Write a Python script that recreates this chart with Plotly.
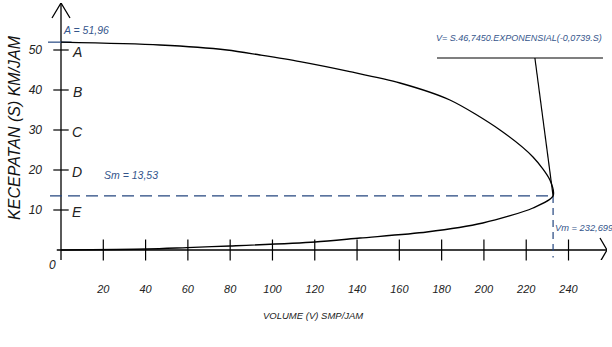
import plotly.graph_objects as go

# Speed-volume relation (upper branch from free-flow speed down to capacity,
# lower branch back to the origin)
upper_volume = [0, 46.8, 78.5, 94.1, 113.0, 136.6, 160.3, 183.9, 207.6, 223.2, 231.2]
upper_speed = [51.96, 51.25, 50.0, 48.75, 47.1, 44.6, 41.75, 37.5, 30.0, 23.25, 17.5]
lower_volume = [223.2, 199.5, 173.0, 141.4, 120.1, 79.9, 59.6, 40.7, 0]
lower_speed = [10.5, 6.75, 4.5, 3.0, 2.0, 1.0, 0.6, 0.25, 0]

free_speed = 51.96      # A
speed_max = 13.53       # Sm
volume_max = 232.699    # Vm

x_ticks = [20, 40, 60, 80, 100, 120, 140, 160, 180, 200, 220, 240]
y_ticks = [10, 20, 30, 40, 50]
y_letters = ["E", "D", "C", "B", "A"]

BLUE = "#34558b"
DASH_BLUE = "#24467f"
FONT = "Liberation Sans, Arial"

X_RANGE = [-6.15, 258.2]
Y_RANGE = [-2.5, 61.75]

curve_v = upper_volume + [volume_max] + lower_volume
curve_s = upper_speed + [speed_max] + lower_speed

fig = go.Figure()

# axis lines
fig.add_trace(go.Scatter(x=[-2, X_RANGE[1]], y=[0, 0], mode="lines",
                         line=dict(color="black", width=1.3), cliponaxis=False,
                         hoverinfo="skip"))
fig.add_trace(go.Scatter(x=[0, 0], y=[Y_RANGE[0], Y_RANGE[1]], mode="lines",
                         line=dict(color="black", width=1.3), cliponaxis=False,
                         hoverinfo="skip"))

# tick marks crossing the axes
fig.add_trace(go.Scatter(x=x_ticks, y=[0] * len(x_ticks), mode="markers",
                         marker=dict(symbol="line-ns", size=15,
                                     line=dict(color="black", width=1.2)),
                         cliponaxis=False, hoverinfo="skip"))
fig.add_trace(go.Scatter(x=[0] * len(y_ticks), y=y_ticks, mode="markers",
                         marker=dict(symbol="line-ew", size=11,
                                     line=dict(color="black", width=1.2)),
                         cliponaxis=False, hoverinfo="skip"))

# reference lines for Sm, Vm and A
fig.add_trace(go.Scatter(x=[-5.2, volume_max], y=[speed_max, speed_max], mode="lines",
                         line=dict(color=DASH_BLUE, width=1.2, dash="12px,6px"),
                         cliponaxis=False, hoverinfo="skip"))
fig.add_trace(go.Scatter(x=[volume_max, volume_max], y=[speed_max, -1.9], mode="lines",
                         line=dict(color=DASH_BLUE, width=1.2, dash="7px,5px"),
                         cliponaxis=False, hoverinfo="skip"))
fig.add_trace(go.Scatter(x=[-6.15, 5], y=[free_speed, free_speed], mode="lines",
                         line=dict(color=BLUE, width=1.3),
                         cliponaxis=False, hoverinfo="skip"))

# speed-volume curve
fig.add_trace(go.Scatter(x=curve_v, y=curve_s, mode="lines",
                         line=dict(color="black", width=1.3, shape="spline", smoothing=0.8),
                         cliponaxis=False, hoverinfo="skip"))

# formula call-out leader
fig.add_trace(go.Scatter(x=[177.8, 256.3], y=[48, 48], mode="lines",
                         line=dict(color="black", width=1.2), cliponaxis=False,
                         hoverinfo="skip"))
fig.add_trace(go.Scatter(x=[224.1, volume_max], y=[48, speed_max], mode="lines",
                         line=dict(color="black", width=1.2), cliponaxis=False,
                         hoverinfo="skip"))

# arrowheads at axis ends
fig.add_shape(type="path", xref="x", yref="y", xsizemode="pixel", ysizemode="pixel",
              xanchor=0, yanchor=Y_RANGE[1], path="M -9,-15 L 0,0 L 9,-15",
              line=dict(color="black", width=1.3))
fig.add_shape(type="path", xref="x", yref="y", xsizemode="pixel", ysizemode="pixel",
              xanchor=X_RANGE[1], yanchor=0, path="M -7,12 L 0,0 L -7,-12",
              line=dict(color="black", width=1.3))

italic = dict(family=FONT, style="italic")

# letters beside the speed ticks
for val, letter in zip(y_ticks, y_letters):
    fig.add_annotation(x=0, y=val, text=letter, showarrow=False, xanchor="center",
                       xshift=16, yshift=-2,
                       font=dict(**italic, size=14, color="#222222"))

fig.add_annotation(x=0, y=0, text="0", showarrow=False, xshift=-9, yshift=-15,
                   font=dict(**italic, size=12, color="#222222"))

fig.add_annotation(x=0, y=free_speed, text="A = 51,96", showarrow=False,
                   xanchor="left", yanchor="bottom", xshift=0, yshift=4,
                   font=dict(**italic, size=10.5, color=BLUE))
fig.add_annotation(x=0, y=speed_max, text="Sm = 13,53", showarrow=False,
                   xanchor="left", yanchor="bottom", xshift=41, yshift=13,
                   font=dict(**italic, size=10.5, color=BLUE))
fig.add_annotation(x=volume_max, y=0, text="Vm = 232,699", showarrow=False,
                   xanchor="left", yanchor="middle", xshift=0, yshift=22,
                   font=dict(**italic, size=9.3, color=BLUE))
fig.add_annotation(x=177.8, y=48, text="V= S.46,7450.EXPONENSIAL(-0,0739.S)",
                   showarrow=False, xanchor="left", yanchor="bottom", xshift=-3, yshift=13,
                   font=dict(**italic, size=9, color=BLUE))

# axis titles
fig.add_annotation(xref="paper", yref="paper", x=0.474, y=-0.245,
                   text="VOLUME (V) SMP/JAM", showarrow=False,
                   font=dict(**italic, size=9.5, color="#222222"))
fig.add_annotation(xref="paper", yref="paper", x=-0.059, y=0.514,
                   xanchor="center", yanchor="middle",
                   text="KECEPATAN (S) KM/JAM", showarrow=False, textangle=-90,
                   font=dict(**italic, size=16, color="#111111"))

fig.update_xaxes(range=X_RANGE, showgrid=False, zeroline=False, showline=False,
                 tickmode="array", tickvals=x_ticks, ticks="",
                 ticklabelstandoff=21,
                 tickfont=dict(**italic, size=11, color="#222222"))
fig.update_yaxes(range=Y_RANGE, showgrid=False, zeroline=False, showline=False,
                 tickmode="array", tickvals=y_ticks, ticks="",
                 ticklabelstandoff=5,
                 tickfont=dict(**italic, size=12, color="#222222"))

fig.update_layout(width=612, height=347, showlegend=False,
                  margin=dict(l=48, r=5, t=3, b=87),
                  paper_bgcolor="white", plot_bgcolor="white")

fig.write_html("out.html")
